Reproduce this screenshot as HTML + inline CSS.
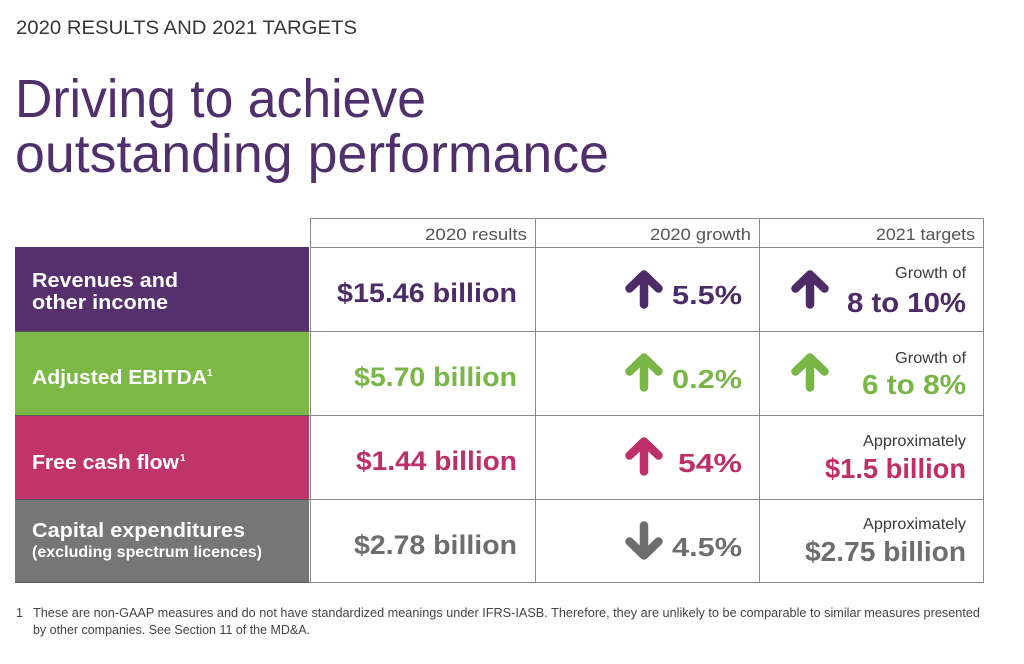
<!DOCTYPE html>
<html>
<head>
<meta charset="utf-8">
<style>
  html,body{margin:0;padding:0;background:#ffffff;}
  svg{display:block;}
  text{font-family:"Liberation Sans", Arial, sans-serif;}
  .b{font-weight:bold;}
</style>
</head>
<body>
<svg width="1024" height="664" viewBox="0 0 1024 664" xmlns="http://www.w3.org/2000/svg">
  <rect x="0" y="0" width="1024" height="664" fill="#ffffff"/>

  <!-- Header text -->
  <text x="16" y="34" font-size="19" fill="#363636" textLength="341" lengthAdjust="spacingAndGlyphs">2020 RESULTS AND 2021 TARGETS</text>

  <!-- Title -->
  <text x="15" y="117" font-size="54" fill="#50306c" textLength="411" lengthAdjust="spacingAndGlyphs">Driving to achieve</text>
  <text x="15" y="172" font-size="54" fill="#50306c" textLength="594" lengthAdjust="spacingAndGlyphs">outstanding performance</text>

  <!-- Colored label cells -->
  <rect x="15" y="247" width="294" height="84" fill="#55306c"/>
  <rect x="15" y="331" width="294" height="84" fill="#7bb846"/>
  <rect x="15" y="415" width="294" height="84" fill="#c0336b"/>
  <rect x="15" y="499" width="294" height="84" fill="#767676"/>

  <!-- Grid lines -->
  <g stroke="#8a8a8a" stroke-width="1" fill="none">
    <line x1="310" y1="218.5" x2="983.5" y2="218.5"/>
    <line x1="310" y1="247.5" x2="983.5" y2="247.5"/>
    <line x1="15" y1="331.5" x2="983.5" y2="331.5"/>
    <line x1="15" y1="415.5" x2="983.5" y2="415.5"/>
    <line x1="15" y1="499.5" x2="983.5" y2="499.5"/>
    <line x1="15" y1="582.5" x2="983.5" y2="582.5"/>
    <line x1="310.5" y1="218" x2="310.5" y2="583"/>
    <line x1="535.5" y1="218" x2="535.5" y2="583"/>
    <line x1="759.5" y1="218" x2="759.5" y2="583"/>
    <line x1="983.5" y1="218" x2="983.5" y2="583"/>
  </g>
  <g stroke="#5a5a5a" stroke-width="1">
    <line x1="15" y1="331.5" x2="309" y2="331.5"/>
    <line x1="15" y1="415.5" x2="309" y2="415.5"/>
    <line x1="15" y1="499.5" x2="309" y2="499.5"/>
    <line x1="15" y1="582.5" x2="309" y2="582.5"/>
  </g>

  <!-- Column headers -->
  <text x="425" y="240" font-size="17" fill="#555555" textLength="102" lengthAdjust="spacingAndGlyphs">2020 results</text>
  <text x="650" y="240" font-size="17" fill="#555555" textLength="101" lengthAdjust="spacingAndGlyphs">2020 growth</text>
  <text x="876" y="240" font-size="17" fill="#555555" textLength="99" lengthAdjust="spacingAndGlyphs">2021 targets</text>

  <!-- Left labels -->
  <text class="b" x="32" y="287" font-size="20.5" fill="#ffffff" textLength="146" lengthAdjust="spacingAndGlyphs">Revenues and</text>
  <text class="b" x="32" y="309" font-size="20.5" fill="#ffffff" textLength="136" lengthAdjust="spacingAndGlyphs">other income</text>

  <text class="b" x="32" y="384" font-size="20.5" fill="#ffffff" textLength="175" lengthAdjust="spacingAndGlyphs">Adjusted EBITDA</text>
  <text class="b" x="207" y="376" font-size="10" fill="#ffffff">1</text>

  <text class="b" x="32" y="469" font-size="20.5" fill="#ffffff" textLength="147" lengthAdjust="spacingAndGlyphs">Free cash flow</text>
  <text class="b" x="180" y="461" font-size="10" fill="#ffffff">1</text>

  <text class="b" x="32" y="537" font-size="20.5" fill="#ffffff" textLength="213" lengthAdjust="spacingAndGlyphs">Capital expenditures</text>
  <text class="b" x="32" y="557" font-size="16" fill="#ffffff" textLength="230" lengthAdjust="spacingAndGlyphs">(excluding spectrum licences)</text>

  <!-- Arrow definitions -->
  <defs>
    <g id="up">
      <path d="M19 34.5 L19 5 M4.5 18.5 L19 4.5 L33.5 18.5" fill="none" stroke-width="8.5" stroke-linecap="round" stroke-linejoin="round"/>
    </g>
    <g id="down">
      <path d="M19 4.5 L19 34 M4.5 20.5 L19 34.5 L33.5 20.5" fill="none" stroke-width="8.5" stroke-linecap="round" stroke-linejoin="round"/>
    </g>
  </defs>

  <!-- Row 1 -->
  <text class="b" x="337" y="302" font-size="27" fill="#4d2b67" textLength="180" lengthAdjust="spacingAndGlyphs">$15.46 billion</text>
  <use href="#up" x="625" y="270" stroke="#4d2b67"/>
  <text class="b" x="672" y="304" font-size="26" fill="#4d2b67" textLength="70" lengthAdjust="spacingAndGlyphs">5.5%</text>
  <use href="#up" x="791" y="270" stroke="#4d2b67"/>
  <text x="895" y="278" font-size="16" fill="#3a3a3a" textLength="71" lengthAdjust="spacingAndGlyphs">Growth of</text>
  <text class="b" x="847" y="312" font-size="28" fill="#4d2b67" textLength="119" lengthAdjust="spacingAndGlyphs">8 to 10%</text>

  <!-- Row 2 -->
  <text class="b" x="354" y="386" font-size="27" fill="#78b646" textLength="163" lengthAdjust="spacingAndGlyphs">$5.70 billion</text>
  <use href="#up" x="625" y="353" stroke="#78b646"/>
  <text class="b" x="672" y="388" font-size="26" fill="#78b646" textLength="70" lengthAdjust="spacingAndGlyphs">0.2%</text>
  <use href="#up" x="791" y="353" stroke="#78b646"/>
  <text x="895" y="363" font-size="16" fill="#3a3a3a" textLength="71" lengthAdjust="spacingAndGlyphs">Growth of</text>
  <text class="b" x="862" y="394" font-size="28" fill="#78b646" textLength="104" lengthAdjust="spacingAndGlyphs">6 to 8%</text>

  <!-- Row 3 -->
  <text class="b" x="356" y="470" font-size="27" fill="#be2f69" textLength="161" lengthAdjust="spacingAndGlyphs">$1.44 billion</text>
  <use href="#up" x="625" y="437" stroke="#be2f69"/>
  <text class="b" x="678" y="472" font-size="26" fill="#be2f69" textLength="64" lengthAdjust="spacingAndGlyphs">54%</text>
  <text x="863" y="446" font-size="16" fill="#3a3a3a" textLength="103" lengthAdjust="spacingAndGlyphs">Approximately</text>
  <text class="b" x="825" y="478" font-size="28" fill="#be2f69" textLength="141" lengthAdjust="spacingAndGlyphs">$1.5 billion</text>

  <!-- Row 4 -->
  <text class="b" x="354" y="554" font-size="27" fill="#6d6d6d" textLength="163" lengthAdjust="spacingAndGlyphs">$2.78 billion</text>
  <use href="#down" x="625" y="521" stroke="#6d6d6d"/>
  <text class="b" x="672" y="556" font-size="26" fill="#6d6d6d" textLength="70" lengthAdjust="spacingAndGlyphs">4.5%</text>
  <text x="863" y="529" font-size="16" fill="#3a3a3a" textLength="103" lengthAdjust="spacingAndGlyphs">Approximately</text>
  <text class="b" x="805" y="561" font-size="28" fill="#6d6d6d" textLength="161" lengthAdjust="spacingAndGlyphs">$2.75 billion</text>

  <!-- Footnote -->
  <text x="16" y="617" font-size="12.5" fill="#444444">1</text>
  <text x="33" y="617" font-size="12.5" fill="#444444" textLength="947" lengthAdjust="spacingAndGlyphs">These are non-GAAP measures and do not have standardized meanings under IFRS-IASB. Therefore, they are unlikely to be comparable to similar measures presented</text>
  <text x="33" y="634" font-size="12.5" fill="#444444" textLength="277" lengthAdjust="spacingAndGlyphs">by other companies. See Section 11 of the MD&amp;A.</text>
</svg>
</body>
</html>
